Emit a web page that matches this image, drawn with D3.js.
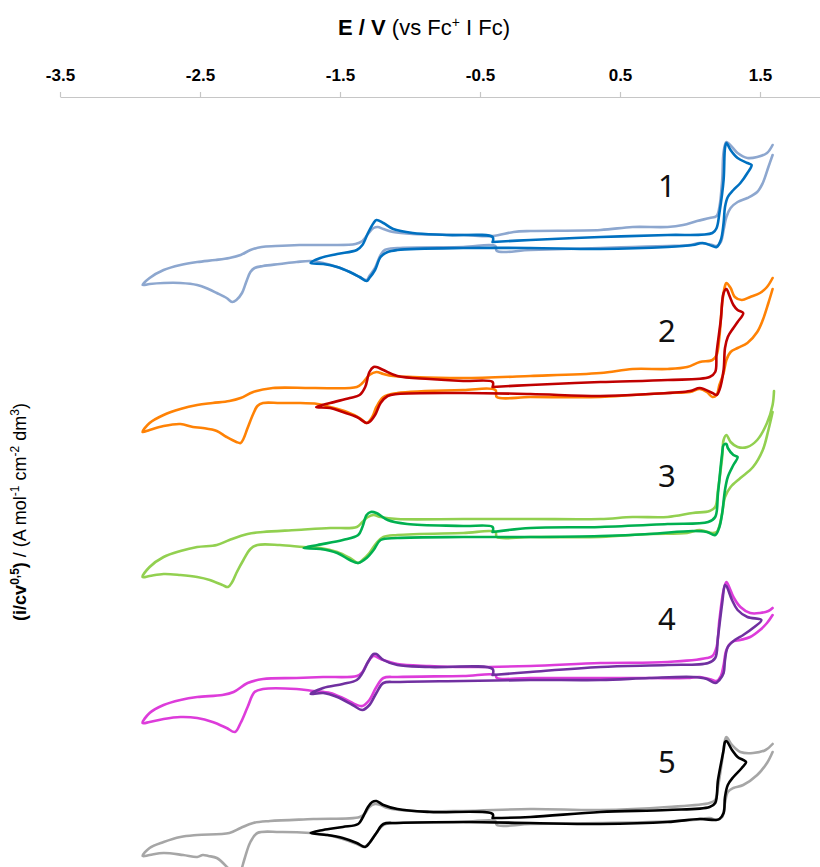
<!DOCTYPE html>
<html>
<head>
<meta charset="utf-8">
<script src="https://cdn.jsdelivr.net/npm/d3@7"></script>
<style>
  html, body { margin: 0; padding: 0; background: #fff; }
  svg { display: block; }
</style>
</head>
<body>
<svg id="chart" width="820" height="867"></svg>
<script>
// Potential axis (V vs Fc+/Fc)
const xTicks = [-3.5, -2.5, -1.5, -0.5, 0.5, 1.5];
const xDomain = [-3.5, 2.0];

// Vertical stacking of the five compounds (normalised current units)
const labels = ["1", "2", "3", "4", "5"];
const offsets = [0, -14.7, -28.7, -43.1, -57.5];
const wideColors = ["#8DA7CF", "#FF8205", "#92D050", "#DD3CDA", "#A6A6A6"];
const narrowColors = ["#0070C0", "#C00000", "#00B050", "#7030A0", "#000000"];

// Compound number placement, relative to each stacked trace [E / V, i]
const labelE = 0.82;
const labelI = [5.2, 5.4, 4.9, 5.0, 5.1];

// Each voltammogram: [E / V, i/cv^0.5]
const wide1 = [[1.59,9.4],[1.56,8.2],[1.52,6.6],[1.48,5.7],[1.41,5.1],[1.34,4.7],[1.29,4.1],[1.26,3.2],[1.24,1.9],[1.22,0.7],[1.19,0.3],[1.16,0.4],[1.07,0.6],[1.0,0.4],[0.84,0.3],[0.59,0.2],[0.36,0.1],[-0.14,-0.1],[-0.38,-0.2],[-0.39,0.3],[-0.62,0.2],[-1.09,0.1],[-1.18,-0.1],[-1.21,-0.6],[-1.25,-1.9],[-1.29,-2.7],[-1.31,-3.1],[-1.36,-2.8],[-1.43,-2.3],[-1.52,-1.8],[-1.62,-1.4],[-1.71,-1.2],[-1.81,-1.3],[-1.93,-1.5],[-2.05,-1.7],[-2.11,-1.9],[-2.14,-2.3],[-2.17,-3.3],[-2.2,-4.4],[-2.24,-5.1],[-2.27,-5.3],[-2.31,-4.9],[-2.38,-4.4],[-2.44,-4.0],[-2.52,-3.6],[-2.64,-3.4],[-2.76,-3.4],[-2.86,-3.5],[-2.91,-3.6],[-2.86,-2.9],[-2.76,-2.1],[-2.64,-1.6],[-2.52,-1.3],[-2.39,-1.1],[-2.29,-0.9],[-2.21,-0.6],[-2.14,-0.1],[-2.06,0.2],[-1.96,0.3],[-1.79,0.4],[-1.57,0.4],[-1.39,0.5],[-1.34,0.8],[-1.3,1.5],[-1.26,2.1],[-1.23,2.2],[-1.19,2.0],[-1.12,1.7],[-0.98,1.5],[-0.62,1.4],[-0.41,1.3],[-0.26,1.7],[-0.14,1.8],[0.36,1.9],[0.59,2.2],[0.84,2.2],[0.95,2.4],[1.05,2.8],[1.14,3.1],[1.19,3.3],[1.21,4.2],[1.23,6.9],[1.24,9.7],[1.26,10.7],[1.3,10.2],[1.34,9.6],[1.41,9.1],[1.48,9.2],[1.55,9.6],[1.59,10.4]];
const narrow1 = [[-0.41,0.7],[-0.14,0.9],[0.36,1.2],[0.84,1.4],[1.16,1.6],[1.19,2.1],[1.21,3.6],[1.24,6.9],[1.25,10.1],[1.26,10.6],[1.29,9.9],[1.34,9.1],[1.41,8.6],[1.44,8.4],[1.41,7.6],[1.36,6.6],[1.31,5.9],[1.27,5.2],[1.25,4.2],[1.24,2.6],[1.22,0.9],[1.19,0.2],[1.16,0.3],[1.09,0.6],[1.02,0.4],[0.84,0.2],[0.36,0],[-0.14,0.1],[-0.62,0.1],[-1.09,-0.1],[-1.16,-0.3],[-1.21,-0.8],[-1.25,-2.1],[-1.29,-2.9],[-1.31,-3.2],[-1.36,-2.8],[-1.43,-2.3],[-1.52,-1.8],[-1.62,-1.5],[-1.71,-1.4],[-1.64,-0.9],[-1.52,-0.5],[-1.38,-0.1],[-1.34,0.4],[-1.3,1.6],[-1.26,2.6],[-1.24,2.9],[-1.19,2.6],[-1.12,2.0],[-0.98,1.6],[-0.74,1.4],[-0.41,1.2],[-0.41,0.7]];

const wide2 = [[1.59,10.7],[1.56,9.3],[1.52,7.6],[1.48,6.4],[1.41,5.3],[1.34,4.8],[1.29,4.4],[1.26,3.6],[1.24,2.3],[1.21,1.1],[1.19,0.1],[1.16,-0.1],[1.12,0.4],[1.07,0.7],[1.0,0.4],[0.84,0.3],[0.59,0.1],[0.36,-0.1],[-0.14,-0.1],[-0.38,-0.1],[-0.39,0.6],[-0.62,0.6],[-1.09,0.3],[-1.19,-0.1],[-1.24,-1.1],[-1.27,-2.1],[-1.31,-2.7],[-1.36,-2.2],[-1.45,-1.6],[-1.57,-1.1],[-1.66,-0.8],[-1.81,-0.7],[-1.93,-0.7],[-2.05,-0.7],[-2.09,-1.0],[-2.12,-1.8],[-2.16,-3.2],[-2.19,-4.3],[-2.21,-4.7],[-2.24,-4.6],[-2.31,-4.1],[-2.38,-3.5],[-2.48,-3.2],[-2.55,-3.1],[-2.64,-2.8],[-2.76,-3.0],[-2.86,-3.4],[-2.91,-3.6],[-2.86,-2.7],[-2.76,-1.9],[-2.64,-1.3],[-2.52,-0.9],[-2.41,-0.7],[-2.29,-0.5],[-2.21,-0.2],[-2.12,0.4],[-1.98,0.8],[-1.69,0.8],[-1.38,0.9],[-1.34,1.3],[-1.29,2.1],[-1.24,2.4],[-1.19,2.2],[-1.12,2.0],[-0.98,1.9],[-0.62,1.8],[-0.14,2.0],[0.36,2.3],[0.59,2.7],[0.84,2.7],[0.98,2.9],[1.07,3.4],[1.16,3.6],[1.19,4.1],[1.21,5.9],[1.23,9.3],[1.25,11.0],[1.26,11.3],[1.29,10.8],[1.32,9.9],[1.37,9.6],[1.43,9.9],[1.5,10.3],[1.55,10.9],[1.59,11.8]];
const narrow2 = [[-0.41,0.9],[-0.14,1.1],[0.36,1.4],[0.84,1.6],[1.14,1.9],[1.18,2.4],[1.19,4.3],[1.22,7.6],[1.24,10.3],[1.26,10.7],[1.28,10.1],[1.31,9.1],[1.34,8.6],[1.38,8.3],[1.34,7.4],[1.31,6.8],[1.27,5.9],[1.25,4.8],[1.24,2.6],[1.21,0.6],[1.19,0.1],[1.16,0.3],[1.07,0.8],[1.0,0.5],[0.71,0.2],[0.36,0],[-0.14,0.2],[-0.62,0.3],[-1.09,0.2],[-1.16,0],[-1.21,-0.7],[-1.25,-1.9],[-1.29,-2.6],[-1.31,-2.7],[-1.38,-2.1],[-1.48,-1.6],[-1.57,-1.2],[-1.67,-1.1],[-1.57,-0.7],[-1.43,-0.2],[-1.36,0.1],[-1.32,0.9],[-1.29,2.4],[-1.26,2.9],[-1.24,2.9],[-1.19,2.6],[-1.09,2.0],[-0.86,1.7],[-0.62,1.5],[-0.41,1.4],[-0.41,0.9]];

const wide3 = [[1.59,12.4],[1.56,10.6],[1.52,8.6],[1.45,6.9],[1.36,5.8],[1.29,4.9],[1.25,3.9],[1.23,2.3],[1.21,1.0],[1.19,0.4],[1.16,0.3],[1.07,0.6],[0.98,0.3],[0.71,0.2],[0.36,-0.1],[-0.14,-0.1],[-0.38,-0.1],[-0.39,0.4],[-0.62,0.3],[-1.09,0.1],[-1.19,-0.1],[-1.24,-0.7],[-1.29,-1.7],[-1.34,-2.4],[-1.37,-2.7],[-1.43,-2.2],[-1.52,-1.6],[-1.64,-1.2],[-1.76,-1.1],[-1.93,-0.9],[-2.09,-0.9],[-2.14,-1.3],[-2.19,-2.4],[-2.24,-3.7],[-2.27,-4.6],[-2.3,-5.1],[-2.34,-4.9],[-2.43,-4.4],[-2.52,-4.1],[-2.64,-3.9],[-2.76,-3.8],[-2.86,-4.0],[-2.91,-4.1],[-2.86,-3.1],[-2.76,-2.1],[-2.64,-1.5],[-2.52,-1.1],[-2.38,-0.9],[-2.29,-0.4],[-2.16,0.2],[-2.05,0.4],[-1.81,0.6],[-1.57,0.8],[-1.38,0.9],[-1.34,1.4],[-1.3,1.9],[-1.26,2.1],[-1.21,1.9],[-1.09,1.7],[-0.62,1.7],[-0.14,1.7],[0.36,1.7],[0.59,1.9],[0.84,1.9],[1.02,2.3],[1.14,2.5],[1.18,2.9],[1.2,4.6],[1.23,7.9],[1.24,9.6],[1.26,10.1],[1.29,9.4],[1.34,8.9],[1.41,8.9],[1.48,9.6],[1.55,11.3],[1.59,13.1],[1.6,14.5]];
const narrow3 = [[-0.41,0.4],[-0.14,0.8],[0.36,0.9],[0.84,1.2],[1.13,1.4],[1.18,1.9],[1.2,4.3],[1.23,8.3],[1.24,9.1],[1.26,9.2],[1.27,8.8],[1.31,8.1],[1.34,7.9],[1.31,7.1],[1.27,5.9],[1.25,4.6],[1.23,2.3],[1.21,0.9],[1.18,0.1],[1.12,0.4],[1.02,0.5],[0.71,0.2],[0.36,0],[-0.14,-0.1],[-0.62,-0.1],[-1.09,-0.2],[-1.21,-0.4],[-1.26,-1.4],[-1.31,-2.2],[-1.37,-2.7],[-1.43,-2.4],[-1.52,-1.7],[-1.64,-1.3],[-1.76,-1.2],[-1.66,-0.9],[-1.48,-0.4],[-1.37,0.1],[-1.34,0.9],[-1.31,2.1],[-1.28,2.4],[-1.24,2.3],[-1.16,1.6],[-1.02,1.2],[-0.62,1.0],[-0.41,0.9],[-0.41,0.4]];

const wide4 = [[1.59,6.5],[1.55,5.7],[1.5,5.0],[1.43,4.3],[1.36,4.0],[1.3,3.8],[1.26,3.0],[1.24,1.5],[1.22,0.4],[1.19,-0.1],[1.16,0],[1.07,0.3],[0.98,0.2],[0.71,0.2],[0.36,0.2],[-0.14,0.2],[-0.38,0.2],[-0.39,0.5],[-0.62,0.4],[-1.09,0.3],[-1.19,0.2],[-1.24,-0.7],[-1.29,-2.0],[-1.34,-2.6],[-1.38,-2.5],[-1.48,-1.8],[-1.57,-1.3],[-1.69,-1.1],[-1.81,-0.9],[-2.05,-0.9],[-2.11,-1.2],[-2.16,-2.7],[-2.21,-4.3],[-2.25,-5.2],[-2.31,-4.8],[-2.41,-4.2],[-2.52,-3.8],[-2.64,-3.7],[-2.76,-3.9],[-2.86,-4.2],[-2.91,-4.3],[-2.86,-3.3],[-2.76,-2.5],[-2.64,-2.0],[-2.52,-1.7],[-2.34,-1.5],[-2.26,-1.2],[-2.16,-0.3],[-2.05,0.1],[-1.81,0.2],[-1.62,0.3],[-1.38,0.4],[-1.34,0.8],[-1.3,1.8],[-1.26,2.4],[-1.21,2.1],[-1.09,1.6],[-0.86,1.4],[-0.62,1.3],[-0.14,1.4],[0.36,1.7],[0.84,1.8],[1.12,2.2],[1.16,2.4],[1.19,3.3],[1.21,6.0],[1.24,9.0],[1.26,9.8],[1.28,9.3],[1.31,8.3],[1.36,7.3],[1.43,6.7],[1.5,6.7],[1.56,6.9],[1.59,7.2]];
const narrow4 = [[-0.41,0.5],[-0.14,0.8],[0.36,1.3],[0.84,1.5],[1.13,1.7],[1.18,2.2],[1.2,4.3],[1.23,7.7],[1.25,9.5],[1.26,9.4],[1.3,8.0],[1.34,7.0],[1.41,6.3],[1.51,6.0],[1.45,5.2],[1.38,4.5],[1.32,4.0],[1.27,3.3],[1.25,2.0],[1.24,0.7],[1.21,0],[1.18,-0.3],[1.12,0.1],[1.02,0.3],[0.71,0.2],[0.36,0],[-0.14,0],[-0.62,-0.1],[-1.09,-0.2],[-1.19,-0.3],[-1.24,-1.3],[-1.29,-2.5],[-1.34,-3.0],[-1.41,-2.5],[-1.52,-1.7],[-1.62,-1.3],[-1.71,-1.4],[-1.62,-0.8],[-1.48,-0.4],[-1.38,0],[-1.34,0.7],[-1.3,1.8],[-1.26,2.6],[-1.24,2.6],[-1.19,2.0],[-1.09,1.5],[-0.86,1.3],[-0.41,1.1],[-0.41,0.5]];

const wide5 = [[1.59,7.2],[1.55,6.1],[1.48,4.9],[1.38,3.9],[1.31,3.6],[1.27,3.2],[1.25,2.1],[1.23,0.7],[1.19,0.4],[1.14,0.6],[1.02,0.4],[0.71,0.2],[0.36,0.1],[-0.14,0],[-0.38,-0.1],[-0.39,0.3],[-0.62,0.2],[-1.09,0.1],[-1.19,-0.1],[-1.24,-0.9],[-1.29,-1.9],[-1.33,-2.3],[-1.38,-2.0],[-1.48,-1.5],[-1.59,-1.1],[-1.71,-0.9],[-1.93,-0.8],[-2.09,-0.9],[-2.14,-1.8],[-2.18,-3.4],[-2.21,-4.8],[-2.23,-5.4],[-2.26,-5.0],[-2.3,-4.4],[-2.38,-3.4],[-2.44,-3.2],[-2.48,-3.1],[-2.52,-3.3],[-2.62,-3.1],[-2.76,-2.9],[-2.86,-3.1],[-2.91,-3.2],[-2.86,-2.4],[-2.76,-1.8],[-2.64,-1.3],[-2.52,-1.1],[-2.29,-0.9],[-2.21,-0.4],[-2.12,0.1],[-2.0,0.3],[-1.69,0.5],[-1.36,0.7],[-1.32,1.1],[-1.29,1.7],[-1.25,2.0],[-1.21,1.9],[-1.16,1.6],[-0.98,1.3],[-0.62,1.3],[-0.14,1.5],[0.36,1.4],[0.84,1.7],[1.14,2.1],[1.18,2.4],[1.2,3.7],[1.23,6.4],[1.25,8.4],[1.26,8.7],[1.3,7.9],[1.36,7.2],[1.45,7.1],[1.54,7.4],[1.59,8.0]];
const narrow5 = [[-0.41,0.6],[-0.14,0.7],[0.36,1.2],[0.84,1.4],[1.14,1.7],[1.18,2.1],[1.2,4.4],[1.24,7.4],[1.25,8.2],[1.26,8.3],[1.3,7.4],[1.34,6.7],[1.4,6.2],[1.37,5.6],[1.31,4.7],[1.27,3.9],[1.25,2.7],[1.24,1.1],[1.21,0.5],[1.18,0.4],[1.07,0.5],[0.84,0.2],[0.36,0],[-0.14,0.1],[-0.62,0.2],[-1.09,0.1],[-1.19,0],[-1.24,-0.9],[-1.29,-1.9],[-1.32,-2.3],[-1.38,-1.9],[-1.48,-1.4],[-1.59,-1.1],[-1.71,-0.9],[-1.62,-0.6],[-1.48,-0.3],[-1.37,0],[-1.34,0.6],[-1.3,1.7],[-1.27,2.2],[-1.24,2.3],[-1.19,1.9],[-1.09,1.5],[-0.86,1.2],[-0.41,1.0],[-0.41,0.6]];

const wideScans = [wide1, wide2, wide3, wide4, wide5];
const narrowScans = [narrow1, narrow2, narrow3, narrow4, narrow5];

const svg = d3.select("#chart");
const W = 820, H = 867;

const x = d3.scaleLinear().domain(xDomain).range([60, 830]);
const y = d3.scaleLinear().domain([10, -62]).range([149, 869]);

// clip the plot area to the page
svg.append("defs").append("clipPath").attr("id", "plotClip")
  .append("rect").attr("x", 0).attr("y", 100).attr("width", W).attr("height", H - 100);

// top potential axis
const axis = d3.axisTop(x)
  .tickValues(xTicks)
  .tickSize(5)
  .tickSizeOuter(0)
  .tickPadding(11)
  .tickFormat(d => d.toFixed(1));

const gAxis = svg.append("g").attr("transform", "translate(0,97)").call(axis);
gAxis.select(".domain").attr("stroke", "#C6C6C6").attr("stroke-width", 1.2);
gAxis.selectAll(".tick line").attr("stroke", "#C6C6C6").attr("stroke-width", 1.2);
gAxis.selectAll(".tick text")
  .attr("fill", "#000")
  .style("font-family", "'Liberation Sans Narrow', 'Liberation Sans', Arial, sans-serif")
  .style("font-weight", "bold")
  .style("font-size", "17px");

// axis title
const title = svg.append("text")
  .attr("x", 424).attr("y", 35)
  .attr("text-anchor", "middle")
  .style("font-family", "'Liberation Sans', Arial, sans-serif")
  .style("font-size", "22px")
  .attr("fill", "#000");
title.append("tspan").style("font-weight", "bold").text("E / V");
title.append("tspan").text(" (vs Fc");
title.append("tspan").attr("dy", -8).style("font-size", "14px").text("+");
title.append("tspan").attr("dy", 8).text(" I Fc)");

// vertical axis title
const yt = svg.append("text")
  .attr("transform", "translate(26,512) rotate(-90)")
  .attr("text-anchor", "middle")
  .style("font-family", "'Liberation Sans', Arial, sans-serif")
  .style("font-size", "18px")
  .attr("fill", "#000");
yt.append("tspan").style("font-weight", "bold").text("(i/cv");
yt.append("tspan").style("font-weight", "bold").attr("dy", -7).style("font-size", "12px").text("0,5");
yt.append("tspan").style("font-weight", "bold").attr("dy", 7).text(")");
yt.append("tspan").text(" / (A mol");
yt.append("tspan").attr("dy", -7).style("font-size", "12px").text("-1");
yt.append("tspan").attr("dy", 7).text(" cm");
yt.append("tspan").attr("dy", -7).style("font-size", "12px").text("-2");
yt.append("tspan").attr("dy", 7).text(" dm");
yt.append("tspan").attr("dy", -7).style("font-size", "12px").text("3");
yt.append("tspan").attr("dy", 7).text(")");

// voltammograms
const plot = svg.append("g").attr("clip-path", "url(#plotClip)");
const lineFor = off => d3.line()
  .x(d => x(d[0]))
  .y(d => y(d[1] + off))
  .curve(d3.curveCatmullRom.alpha(0.5));

labels.forEach((lab, k) => {
  const g = plot.append("g").attr("class", "compound-" + lab);
  g.append("path")
    .datum(wideScans[k])
    .attr("d", lineFor(offsets[k]))
    .attr("fill", "none")
    .attr("stroke", wideColors[k])
    .attr("stroke-width", 2.6)
    .attr("stroke-linejoin", "round")
    .attr("stroke-linecap", "round");
  g.append("path")
    .datum(narrowScans[k])
    .attr("d", lineFor(offsets[k]))
    .attr("fill", "none")
    .attr("stroke", narrowColors[k])
    .attr("stroke-width", 2.6)
    .attr("stroke-linejoin", "round")
    .attr("stroke-linecap", "round");
});

// compound numbers
svg.selectAll("text.cmp")
  .data(labels)
  .join("text")
  .attr("class", "cmp")
  .attr("x", x(labelE) + 2)
  .attr("y", (d, k) => y(labelI[k] + offsets[k]))
  .attr("text-anchor", "middle")
  .style("font-family", "'Noto Sans', 'Open Sans', sans-serif")
  .style("font-size", "31px")
  .attr("fill", "#111")
  .text(d => d);
</script>
</body>
</html>
